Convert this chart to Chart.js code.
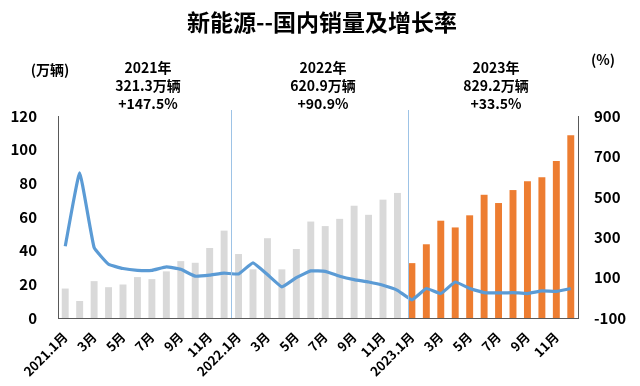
<!DOCTYPE html>
<html>
<head>
<meta charset="utf-8">
<script src="https://cdn.jsdelivr.net/npm/chart.js@4.4.1/dist/chart.umd.min.js"></script>
<style>
html,body{margin:0;padding:0;background:#fff;}
#wrap{width:640px;height:386px;}
</style>
</head>
<body>
<div id="wrap"><canvas id="c" width="640" height="386"></canvas></div>
<script>
const months = ["2021.1月","2月","3月","4月","5月","6月","7月","8月","9月","10月","11月","12月",
  "2022.1月","2月","3月","4月","5月","6月","7月","8月","9月","10月","11月","12月",
  "2023.1月","2月","3月","4月","5月","6月","7月","8月","9月","10月","11月","12月"];
const sales = [17.5,10.1,21.9,18.3,19.9,24.3,23.1,27.7,33.8,32.8,41.6,51.9,
  38.0,28.9,47.4,28.9,41.0,57.3,54.6,58.9,66.7,61.3,70.3,74.3,
  32.6,43.8,57.8,53.8,61.0,73.2,68.3,76.0,81.3,83.6,93.3,108.5];
const growth = [255,619,249,166,145,136,136,153,141,107,112,122,
  118,173,115,54,100,133,131,107,90,78,62,37,
  -10,46,21,78,46,26,24,26,21,34,32,46];
const leftTicks = [0,20,40,60,80,100,120];
const rightTicks = [-100,100,300,500,700,900];
const yearNotes = [
  ["2021年","321.3万辆","+147.5%"],
  ["2022年","620.9万辆","+90.9%"],
  ["2023年","829.2万辆","+33.5%"]
];
const titleText = "新能源--国内销量及增长率";
const leftUnit = "(万辆)";
const rightUnit = "(%)";

const FONT = "'Noto Sans CJK SC','Noto Sans',sans-serif";
const barColors = sales.map((v,i)=> i < 24 ? '#d9d9d9' : '#ed7d31');

const annot = {
  id:'annot',
  afterDatasetsDraw(chart){
    const ctx = chart.ctx;
    const x = chart.scales.x;
    const area = chart.chartArea;
    ctx.save();
    ctx.strokeStyle = '#9dc3e6';
    ctx.lineWidth = 1;
    [11.46, 23.75].forEach(v=>{
      const px = Math.round(x.getPixelForValue(v))+0.5;
      ctx.beginPath(); ctx.moveTo(px, 110); ctx.lineTo(px, area.bottom); ctx.stroke();
    });
    ctx.restore();
  },
  afterDraw(chart){
    const ctx = chart.ctx;
    ctx.save();
    ctx.fillStyle = '#000';
    ctx.textAlign = 'center';
    ctx.textBaseline = 'middle';
    ctx.font = "bold 23px " + FONT;
    ctx.fillText(titleText, 322, 22);
    ctx.font = "bold 14px " + FONT;
    ctx.fillText(leftUnit, 50, 70);
    ctx.fillText(rightUnit, 603, 60);
    const centers = [148, 323, 496];
    yearNotes.forEach((lines,k)=>{
      lines.forEach((t,j)=>{
        ctx.fillText(t, centers[k], 68 + j*18);
      });
    });
    ctx.restore();
  }
};

new Chart(document.getElementById('c'), {
  data:{
    labels: months,
    datasets:[
      {type:'line', label:'增长率', data: growth, yAxisID:'y1', borderColor:'#5b9bd5',
       borderWidth:3.2, pointRadius:0, tension:0.1, order:0},
      {type:'bar', label:'销量', data: sales, yAxisID:'y', backgroundColor: barColors,
       categoryPercentage:1, barPercentage:0.48, order:1}
    ]
  },
  options:{
    responsive:false,
    animation:false,
    devicePixelRatio:1,
    layout:{padding:{top:116,left:0,right:0,bottom:0}},
    plugins:{legend:{display:false}, tooltip:{enabled:false}, title:{display:false}},
    scales:{
      x:{
        type:'category', offset:true,
        grid:{display:false, drawTicks:false},
        border:{display:true, color:'#595959', width:1},
        ticks:{autoSkip:false, maxRotation:45, minRotation:45, padding:11, color:'#000',
          font:{family:FONT, size:13, weight:'bold'},
          callback:(v,i)=> i%2===0 ? months[i] : ''},
        afterFit(s){ s.height = 68; }
      },
      y:{
        position:'left', min:0, max:120,
        afterBuildTicks(s){ s.ticks = leftTicks.map(v=>({value:v})); },
        grid:{display:false, drawTicks:false},
        border:{display:true, color:'#595959', width:1},
        ticks:{padding:21, color:'#000', font:{family:FONT, size:15, weight:'bold'}},
        afterFit(s){ s.width = 58; }
      },
      y1:{
        position:'right', min:-100, max:900,
        afterBuildTicks(s){ s.ticks = rightTicks.map(v=>({value:v})); },
        grid:{display:false, drawTicks:false},
        border:{display:true, color:'#595959', width:1},
        ticks:{padding:16, color:'#000', font:{family:FONT, size:15, weight:'bold'}},
        afterFit(s){ s.width = 62; }
      }
    }
  },
  plugins:[annot]
});
</script>
</body>
</html>
